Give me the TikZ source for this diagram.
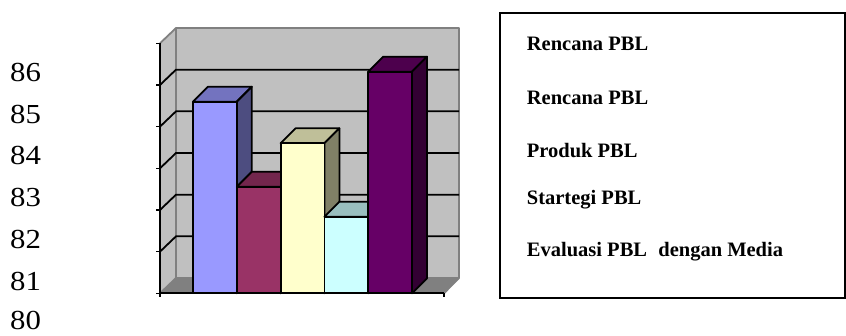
\documentclass[tikz,border=0pt]{standalone}
\usepackage{fontspec}
\setmainfont{Liberation Serif}
\definecolor{wallgray}{HTML}{C0C0C0}
\definecolor{edgegray}{HTML}{808080}
\definecolor{floorgray}{HTML}{808080}
\definecolor{bAf}{HTML}{9999FF}\definecolor{bAt}{HTML}{7373BF}\definecolor{bAs}{HTML}{4D4D80}
\definecolor{bBf}{HTML}{993366}\definecolor{bBt}{HTML}{73264D}\definecolor{bBs}{HTML}{4D1A33}
\definecolor{bCf}{HTML}{FFFFCC}\definecolor{bCt}{HTML}{BFBF99}\definecolor{bCs}{HTML}{808066}
\definecolor{bDf}{HTML}{CCFFFF}\definecolor{bDt}{HTML}{99BFBF}\definecolor{bDs}{HTML}{668080}
\definecolor{bEf}{HTML}{660066}\definecolor{bEt}{HTML}{4D004D}\definecolor{bEs}{HTML}{330033}
\newcommand\colbar[5]{%
  \filldraw[barline,fill=#4] (#1,#2) -- ++(15,-15) -- ++(43.8,0) -- ++(-15,15) -- cycle;
  \filldraw[barline,fill=#5] (#1+43.8,#2) -- ++(15,-15) -- (#1+58.8,278.3) -- (#1+43.8,293.3) -- cycle;
  \filldraw[barline,fill=#3] (#1,#2) rectangle (#1+43.8,293.3);
}
\begin{document}
\begin{tikzpicture}[x=1pt,y=-1pt,
  barline/.style={draw=black,line width=1.8pt,line join=round},
  gridline/.style={black,line width=1.8pt},
  walledge/.style={edgegray,line width=1.8pt,line join=round},
  ylab/.style={anchor=base west,inner sep=0pt,font=\fontsize{27.5}{27.5}\selectfont},
  leg/.style={anchor=base west,inner sep=0pt,font=\fontsize{20.5}{20.5}\selectfont\bfseries}]
\useasboundingbox (0,0) rectangle (846,336);
% walls and floor
\fill[wallgray] (176,28) rectangle (459,278);
\fill[wallgray] (160,43.3) -- (176,28) -- (176,278) -- (160,293.3) -- cycle;
\fill[floorgray] (160,293.3) -- (176,278) -- (459,278) -- (444,293.3) -- cycle;
\draw[walledge] (160,43.3) -- (176,28) -- (459,28) -- (459,278) -- (444,293.3);
\draw[walledge] (176,28) -- (176,278) -- (459,278);
\draw[walledge] (176,278) -- (160,293.3);
% gridlines
\foreach \k in {1,...,5}{
  \draw[gridline] (160,43.3+41.67*\k) -- (176,28+41.67*\k) -- (459,28+41.67*\k);
}
% value axis
\draw[black,line width=1.8pt] (160,43.3) -- (160,293.3) -- (444,293.3);
\foreach \k in {0,...,6}{\draw[black,line width=1.4pt] (156,43.3+41.67*\k) -- (160,43.3+41.67*\k);}
\draw[black,line width=1.4pt] (160,293.3) -- (160,297);
\draw[black,line width=1.4pt] (444,293.3) -- (444,297);
% bars
\colbar{193}{101.7}{bAf}{bAt}{bAs}
\colbar{236.8}{186.7}{bBf}{bBt}{bBs}
\colbar{280.6}{143.3}{bCf}{bCt}{bCs}
\colbar{324.4}{216.7}{bDf}{bDt}{bDs}
\colbar{368.2}{71.7}{bEf}{bEt}{bEs}
% value labels
\node[ylab] (l86) at (10,82) {\scalebox{1.12}[1]{86}};
\node[ylab] (l85) at (10,123.5) {\scalebox{1.12}[1]{85}};
\node[ylab] (l84) at (10,165) {\scalebox{1.12}[1]{84}};
\node[ylab] (l83) at (10,207) {\scalebox{1.12}[1]{83}};
\node[ylab] (l82) at (10,249) {\scalebox{1.12}[1]{82}};
\node[ylab] (l81) at (10,290.5) {\scalebox{1.12}[1]{81}};
\node[ylab] (l80) at (10,330) {\scalebox{1.12}[1]{80}};
% legend
\draw[black,line width=1.8pt] (500,13.3) rectangle (845,298.3);
\node[leg] (t1) at (526.7,51) {Rencana PBL};
\node[leg] (t2) at (526.7,104.3) {Rencana PBL};
\node[leg] (t3) at (526.7,157.3) {Produk PBL};
\node[leg] (t4) at (526.7,205) {Startegi PBL};
\node[leg] (t5) at (526.7,256.7) {Evaluasi PBL\hspace{0.55em}dengan Media};
\end{tikzpicture}
\end{document}
